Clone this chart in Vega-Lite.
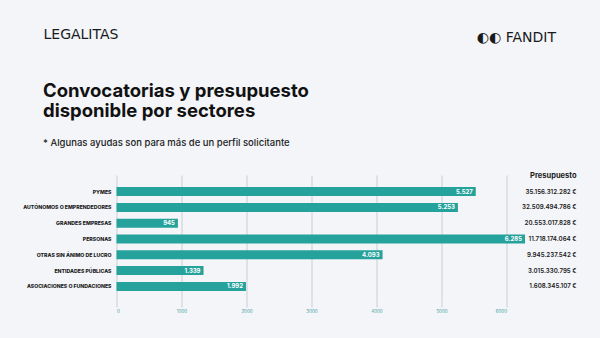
{
  "$schema": "https://vega.github.io/schema/vega-lite/v6.json",
  "autosize": "none",
  "width": 390,
  "height": 128,
  "padding": {"left": 116.5, "top": 175, "right": 93.5, "bottom": 35},
  "background": "#f3f5f9",
  "title": {
    "text": ["Convocatorias y presupuesto", "disponible por sectores"],
    "subtitle": "* Algunas ayudas son para más de un perfil solicitante",
    "anchor": "start",
    "frame": "group",
    "dx": -73.5,
    "dy": 150,
    "offset": 30,
    "font": "Inter",
    "fontSize": 18.5,
    "fontWeight": 700,
    "color": "#111111",
    "lineHeight": 19.5,
    "subtitleFont": "Inter",
    "subtitleFontSize": 9.5,
    "subtitleFontWeight": 500,
    "subtitleColor": "#222222",
    "subtitlePadding": 18
  },
  "data": {
    "values": [
      {"order": 1, "sector": "PYMES", "convocatorias": 5527, "presupuesto": "35.156.312.282 €"},
      {"order": 2, "sector": "AUTÓNOMOS O EMPRENDEDORES", "convocatorias": 5253, "presupuesto": "32.509.494.786 €"},
      {"order": 3, "sector": "GRANDES EMPRESAS", "convocatorias": 945, "presupuesto": "20.553.017.828 €"},
      {"order": 4, "sector": "PERSONAS", "convocatorias": 6285, "presupuesto": "11.718.174.064 €"},
      {"order": 5, "sector": "OTRAS SIN ÁNIMO DE LUCRO", "convocatorias": 4093, "presupuesto": "9.945.237.542 €"},
      {"order": 6, "sector": "ENTIDADES PÚBLICAS", "convocatorias": 1339, "presupuesto": "3.015.330.795 €"},
      {"order": 7, "sector": "ASOCIACIONES O FUNDACIONES", "convocatorias": 1992, "presupuesto": "1.608.345.107 €"}
    ]
  },
  "layer": [
    {
      "mark": {"type": "bar", "color": "#26a29c"},
      "encoding": {
        "y": {
          "field": "sector", "type": "nominal", "sort": {"field": "order"},
          "scale": {"type": "band", "paddingInner": 0.43, "paddingOuter": 0.765},
          "axis": {
            "title": "LEGALITAS", "titleAngle": 0, "titleAlign": "left", "titleBaseline": "alphabetic",
            "titleX": -73.5, "titleY": -136.3, "titleFont": "DejaVu Sans", "titleFontSize": 14, "titleFontWeight": 500, "titleColor": "#1a1a1a",
            "domain": false, "ticks": false, "labelPadding": 5.5,
            "labelFont": "Inter", "labelFontSize": 5.2, "labelFontWeight": 800, "labelColor": "#1b1b1b"
          }
        },
        "x": {
          "field": "convocatorias", "type": "quantitative",
          "scale": {"domain": [0, 6000], "nice": false},
          "axis": {
            "title": null, "values": [0, 1000, 2000, 3000, 4000, 5000, 6000], "format": "d",
            "grid": true, "gridColor": "#c9cdd3", "gridWidth": 1,
            "domain": false, "ticks": true, "tickSize": 4, "tickColor": "#c9cdd3",
            "labelPadding": 1.5, "labelFont": "Inter", "labelFontSize": 4.5, "labelColor": "#3a9e9a"
          }
        }
      }
    },
    {
      "mark": {"type": "text", "align": "right", "baseline": "middle", "dx": -3, "color": "#ffffff", "font": "Inter", "fontSize": 6, "fontWeight": 700},
      "encoding": {
        "y": {"field": "sector", "type": "nominal", "sort": {"field": "order"}, "scale": {"type": "band", "paddingInner": 0.43, "paddingOuter": 0.765}, "axis": null},
        "x": {
          "field": "convocatorias", "type": "quantitative",
          "axis": {
            "orient": "top", "labels": false, "ticks": false, "domain": false, "grid": false,
            "title": "◐◐ FANDIT", "titleAlign": "right", "titleBaseline": "alphabetic", "titleAngle": 0,
            "titleX": 439, "titleY": -133.3, "titleFont": "DejaVu Sans", "titleFontSize": 14, "titleFontWeight": 400, "titleColor": "#1a1a1a"
          }
        },
        "text": {"field": "convocatorias", "type": "quantitative", "format": ",d"}
      }
    },
    {
      "mark": {"type": "tick", "opacity": 0},
      "encoding": {
        "y": {
          "field": "presupuesto", "type": "nominal", "sort": {"field": "order"},
          "scale": {"type": "band", "paddingInner": 0.43, "paddingOuter": 0.765},
          "axis": {
            "orient": "right", "offset": 69.5, "domain": false, "ticks": false, "labelPadding": 0, "labelAlign": "right",
            "labelFont": "Inter", "labelFontSize": 6.2, "labelFontWeight": 600, "labelColor": "#1b1b1b",
            "title": "Presupuesto", "titleAngle": 0, "titleAlign": "right", "titleBaseline": "alphabetic",
            "titleX": 0, "titleY": 2.5, "titleFont": "Inter", "titleFontSize": 7.5, "titleFontWeight": 700, "titleColor": "#1b1b1b"
          }
        }
      }
    }
  ],
  "resolve": {"scale": {"y": "independent"}, "axis": {"x": "independent", "y": "independent"}},
  "config": {
    "view": {"stroke": null},
    "locale": {"number": {"decimal": ",", "thousands": ".", "grouping": [3], "currency": ["", " €"]}}
  }
}
